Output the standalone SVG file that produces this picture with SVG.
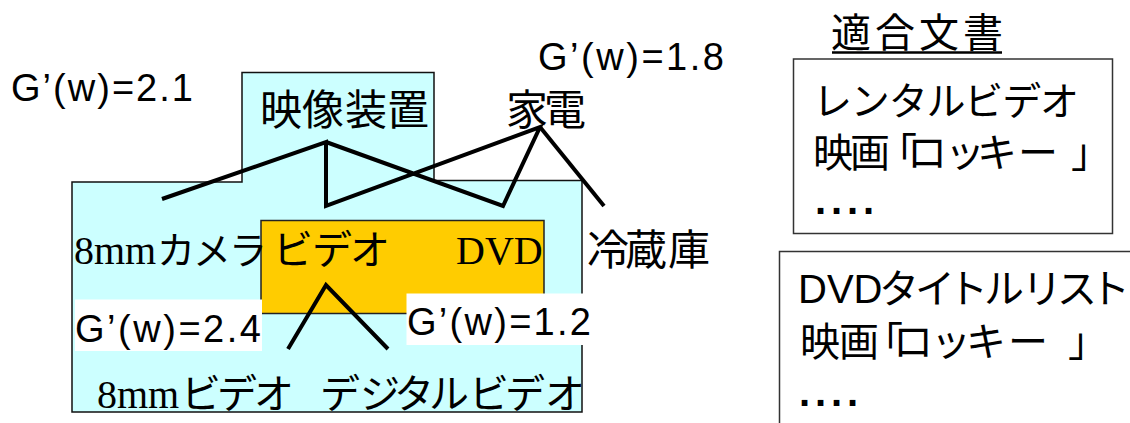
<svg xmlns="http://www.w3.org/2000/svg" width="1130" height="423" viewBox="0 0 1130 423">
<style>
.jp{font-family:"Noto Sans CJK JP","Noto Sans CJK SC",sans-serif;fill:#000}
.lat{font-family:"Liberation Sans",Arial,sans-serif;fill:#000}
.ser{font-family:"Liberation Serif","Times New Roman",serif;fill:#000}
.g{font-family:"Liberation Sans",Arial,sans-serif;font-size:38px;fill:#000}
.edge{stroke:#000;stroke-width:4;fill:none}
.doc{fill:#fff;stroke:#333;stroke-width:1.5}
</style>
<rect width="1130" height="423" fill="#fff"/>
<g id="region-eizou">
<polygon points="72,182 242,182 242,72.5 434,72.5 434,180.5 582,180.5 582,412 72,412" fill="#CCFFFF" stroke="#111" stroke-width="1.5"/>
</g>
<g id="region-video">
<rect x="261" y="220.5" width="283" height="93" fill="#FFCC00" stroke="#222" stroke-width="1.5"/>
</g>
<g id="label-backs">
<rect x="75" y="299.5" width="187" height="51.5" fill="#fff"/>
<rect x="406.5" y="293.5" width="185" height="51.5" fill="#fff"/>
</g>
<g id="node-eizousouchi"><text class="jp" font-size="42" x="260 302 345 387" y="125">映像装置</text></g>
<g id="node-kaden"><text class="jp" font-size="42" x="506 544" y="125">家電</text></g>
<g id="node-8mmcamera"><text y="264"><tspan class="ser" font-size="40" x="74">8mm</tspan><tspan class="jp" font-size="38" x="157 193 229">カメラ</tspan></text></g>
<g id="node-video"><text class="jp" font-size="40" x="273 312 350" y="264">ビデオ</text></g>
<g id="node-dvd"><text class="ser" font-size="40" x="456" y="264">DVD</text></g>
<g id="node-reizouko"><text class="jp" font-size="42" x="587 625 668" y="265">冷蔵庫</text></g>
<g id="node-8mmvideo"><text y="408"><tspan class="ser" font-size="40" x="97">8mm</tspan><tspan class="jp" font-size="40" x="181 217 254">ビデオ</tspan></text></g>
<g id="node-digitalvideo"><text class="jp" font-size="40" x="320 360 394 429 469 505 545" y="408">デジタルビデオ</text></g>
<g id="weights">
<text class="g" x="11" y="100.5" textLength="182" lengthAdjust="spacing">G’(w)=2.1</text>
<text class="g" x="538" y="70" textLength="186" lengthAdjust="spacing">G’(w)=1.8</text>
<text class="g" x="75" y="341.5" textLength="186" lengthAdjust="spacing">G’(w)=2.4</text>
<text class="g" x="407" y="335" textLength="184" lengthAdjust="spacing">G’(w)=1.2</text>
</g>
<g id="connectors">
<polyline class="edge" points="162,199 326,142 326,206 540,127 503,206 326,142"/>
<line class="edge" x1="540" y1="127" x2="604" y2="206"/>
<polyline class="edge" points="288,349 326,285 388,349"/>
</g>
<g id="docs-title">
<text class="jp" font-size="40" x="831" y="47" textLength="172" lengthAdjust="spacing">適合文書</text>
<line x1="832" y1="52.5" x2="1002" y2="52.5" stroke="#000" stroke-width="2.5"/>
</g>
<g id="doc1">
<rect class="doc" x="793.5" y="59" width="319" height="174.5"/>
<text class="jp" font-size="39" x="813" y="115" textLength="266" lengthAdjust="spacing">レンタルビデオ</text>
<text class="jp" font-size="40" x="813 850 877 907 945 977 1018 1071" y="167">映画「ロッキー」</text>
<text class="lat" font-size="40" font-weight="bold" x="815 831 847 863" y="214">....</text>
</g>
<g id="doc2">
<rect class="doc" x="779.5" y="251.5" width="360" height="180"/>
<text y="303"><tspan class="lat" font-size="40" x="798">DVD</tspan><tspan class="jp" font-size="40" x="879 915 948 984 1022 1057 1090">タイトルリスト</tspan></text>
<text class="jp" font-size="40" x="800 839 863 893 931 966 1008 1050 1068" y="356">映画「ロッキー 」</text>
<text class="lat" font-size="40" font-weight="bold" x="799 815 831 847" y="406">....</text>
</g>
</svg>
